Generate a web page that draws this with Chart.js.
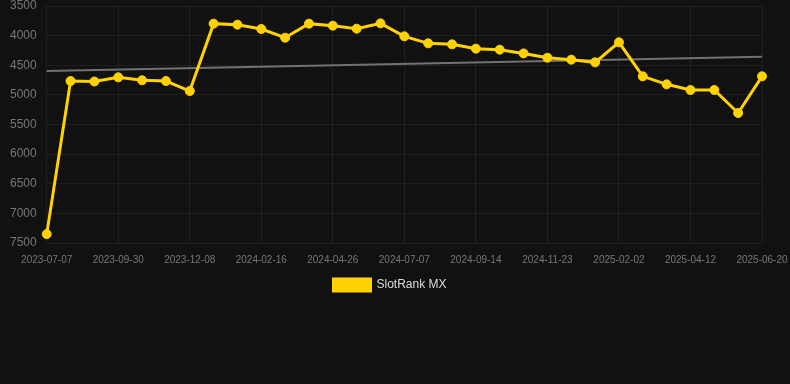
<!DOCTYPE html>
<html>
<head>
<meta charset="utf-8">
<script src="https://cdn.jsdelivr.net/npm/chart.js@4/dist/chart.umd.min.js"></script>
<style>
html,body{margin:0;padding:0;background:#111111;}
#wrap{width:790px;height:384px;position:relative;}
</style>
</head>
<body>
<div id="wrap"><canvas id="c"></canvas></div>
<script>
const labels = ["2023-07-07","2023-08-04","2023-09-01","2023-09-30","2023-10-23","2023-11-15","2023-12-08","2024-01-01","2024-01-24","2024-02-16","2024-03-10","2024-04-03","2024-04-26","2024-05-20","2024-06-13","2024-07-07","2024-07-30","2024-08-22","2024-09-14","2024-10-07","2024-10-31","2024-11-23","2024-12-16","2025-01-09","2025-02-02","2025-02-25","2025-03-20","2025-04-12","2025-05-05","2025-05-28","2025-06-20"];
const rankValues = [7350,4766,4775,4704,4754,4766,4935,3798,3815,3888,4035,3798,3832,3883,3793,4012,4130,4147,4220,4237,4300,4373,4406,4451,4113,4687,4822,4918,4918,5306,4687];
const trendValues = [4597,null,null,null,null,null,null,null,null,null,null,null,null,null,null,null,null,null,null,null,null,null,null,null,null,null,null,null,null,null,4356];
const yTicks = [3500,4000,4500,5000,5500,6000,6500,7000,7500];

new Chart(document.getElementById('c'), {
  type: 'line',
  data: {
    labels: labels,
    datasets: [
      {
        label: 'SlotRank MX',
        data: rankValues,
        borderColor: '#ffd200',
        backgroundColor: '#ffd200',
        borderWidth: 3,
        pointRadius: 4.5,
        pointBorderWidth: 1,
        pointHoverRadius: 4.5,
        pointBackgroundColor: '#ffd200',
        pointBorderColor: '#ffd200',
        tension: 0
      },
      {
        label: 'trend',
        data: trendValues,
        borderColor: '#727272',
        borderWidth: 2,
        pointRadius: 0,
        spanGaps: true,
        tension: 0
      }
    ]
  },
  options: {
    responsive: true,
    maintainAspectRatio: false,
    animation: false,
    layout: { padding: { top: 0, right: 10, bottom: 83, left: 0 } },
    plugins: {
      legend: {
        position: 'bottom',
        labels: {
          color: '#dddddd',
          font: { size: 12 },
          boxWidth: 37,
          boxHeight: 12,
          padding: 2,
          filter: (item) => item.text !== 'trend'
        }
      },
      tooltip: { enabled: false }
    },
    scales: {
      x: {
        grid: {
          color: (ctx) => (ctx.index % 3 === 0 ? 'rgba(255,255,255,0.06)' : 'transparent'),
          drawTicks: false
        },
        border: { display: false },
        ticks: {
          color: '#777777',
          font: { size: 10 },
          autoSkip: false,
          maxRotation: 0,
          padding: 11,
          callback: function(v, i) { return i % 3 === 0 ? labels[i] : ''; }
        },
        afterFit: (s) => { s.paddingRight = 28; s.paddingTop = 0; }
      },
      y: {
        reverse: true,
        min: 3500,
        max: 7500,
        afterBuildTicks: (axis) => { axis.ticks = yTicks.map(v => ({ value: v })); },
        grid: { color: 'rgba(255,255,255,0.06)', drawTicks: false },
        border: { display: false },
        ticks: {
          color: '#777777',
          font: { size: 12 },
          padding: 10,
          callback: (v) => String(v)
        },
        afterFit: (s) => { s.paddingTop = 6; s.paddingBottom = 0; }
      }
    }
  }
});
</script>
</body>
</html>
